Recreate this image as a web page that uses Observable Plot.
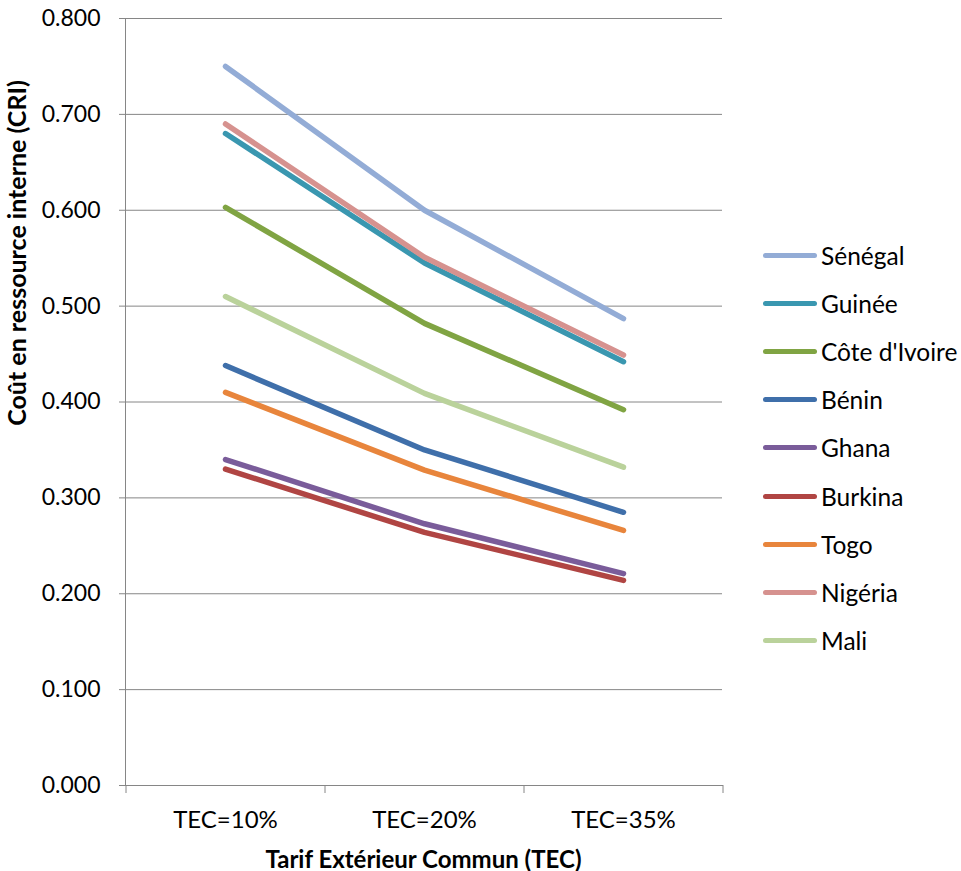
<!DOCTYPE html>
<html><head><meta charset="utf-8">
<script src="https://cdn.jsdelivr.net/npm/d3@7"></script>
<script src="https://cdn.jsdelivr.net/npm/@observablehq/plot@0.6"></script>
<style>
body{margin:0;background:#fff;font-family:"Lato",sans-serif;}
#wrap{position:relative;width:961px;height:871px;overflow:hidden;}
.leg{position:absolute;left:763px;height:30px;display:flex;align-items:center;font-size:24.5px;color:#000;white-space:nowrap;font-family:"Lato";}
.leg .sw{width:54px;height:5px;border-radius:3px;margin-right:4px;}
</style>
</head><body><div id="wrap"></div>
<script>
const categories = ["TEC=10%", "TEC=20%", "TEC=35%"];
const countries = ["Sénégal", "Guinée", "Côte d'Ivoire", "Bénin", "Ghana", "Burkina", "Togo", "Nigéria", "Mali"];
const colors = ["#93ACD6", "#3A97B0", "#80A443", "#3F6FAA", "#7A5C9A", "#B04543", "#E8853C", "#D6928F", "#BAD29B"];
const senegal = [0.750, 0.600, 0.487];
const guinee = [0.680, 0.545, 0.442];
const coteIvoire = [0.603, 0.482, 0.392];
const benin = [0.438, 0.350, 0.285];
const ghana = [0.340, 0.273, 0.221];
const burkina = [0.330, 0.264, 0.214];
const togo = [0.410, 0.329, 0.266];
const nigeria = [0.690, 0.551, 0.449];
const mali = [0.510, 0.409, 0.332];
const yTicks = [0, 0.1, 0.2, 0.3, 0.4, 0.5, 0.6, 0.7, 0.8];
const yTitle = "Coût en ressource interne (CRI)";
const xTitle = "Tarif Extérieur Commun (TEC)";

const series = [senegal, guinee, coteIvoire, benin, ghana, burkina, togo, nigeria, mali];
const rows = [];
countries.forEach((c, i) => series[i].forEach((v, j) => rows.push({country: c, cat: categories[j], value: v})));

const W = 961, H = 871, ML = 125, MR = 239, MT = 18, MB = 86;
const step = (W - ML - MR) / categories.length;
const grey = "#868686";

const plot = Plot.plot({
  width: W, height: H,
  marginLeft: ML, marginRight: MR, marginTop: MT, marginBottom: MB,
  style: {fontFamily: "Lato", fontSize: "23px", color: "#000", background: "#fff", overflow: "visible"},
  x: {type: "point", domain: categories, padding: 0.5},
  y: {domain: [0, 0.8]},
  color: {domain: countries, range: colors},
  marks: [
    Plot.gridY(yTicks, {stroke: grey, strokeOpacity: 1, strokeWidth: 1}),
    Plot.frame({anchor: "left", stroke: grey, strokeWidth: 1}),
    Plot.frame({anchor: "bottom", stroke: grey, strokeWidth: 1}),
    Plot.axisY(yTicks, {tickFormat: d => d.toFixed(3), tickSize: 6, tickPadding: 19, stroke: grey, label: null}),
    Plot.axisX({tickSize: 0, tickPadding: 25, label: null, fontSize: 24}),
    Plot.ruleX(categories, {x: d => d, dx: -step / 2, y1: 0, y2: 0, insetBottom: -8, stroke: grey}),
    Plot.ruleX([categories[categories.length - 1]], {x: d => d, dx: step / 2, y1: 0, y2: 0, insetBottom: -8, stroke: grey}),
    Plot.line(rows, {x: "cat", y: "value", z: "country", stroke: "country", strokeWidth: 5.5, strokeLinecap: "round", strokeLinejoin: "round"})
  ]
});

const wrap = document.getElementById("wrap");
wrap.appendChild(plot);
const svg = d3.select(plot);
svg.append("text")
  .attr("transform", "translate(16,253) rotate(-90)")
  .attr("text-anchor", "middle").attr("dominant-baseline", "central")
  .attr("font-weight", "bold").attr("font-size", 25).attr("font-family", "Lato").attr("fill", "#000")
  .text(yTitle);
svg.append("text")
  .attr("x", ML + (W - ML - MR) / 2).attr("y", 858)
  .attr("text-anchor", "middle").attr("dominant-baseline", "central")
  .attr("font-weight", "bold").attr("font-size", 24).attr("font-family", "Lato").attr("fill", "#000")
  .text(xTitle);

countries.forEach((c, i) => {
  const d = document.createElement("div");
  d.className = "leg";
  d.style.top = (255 + i * 48.2 - 15) + "px";
  const sw = document.createElement("div");
  sw.className = "sw";
  sw.style.background = colors[i];
  const t = document.createElement("span");
  t.textContent = c;
  d.appendChild(sw); d.appendChild(t);
  wrap.appendChild(d);
});
</script>
</body></html>
